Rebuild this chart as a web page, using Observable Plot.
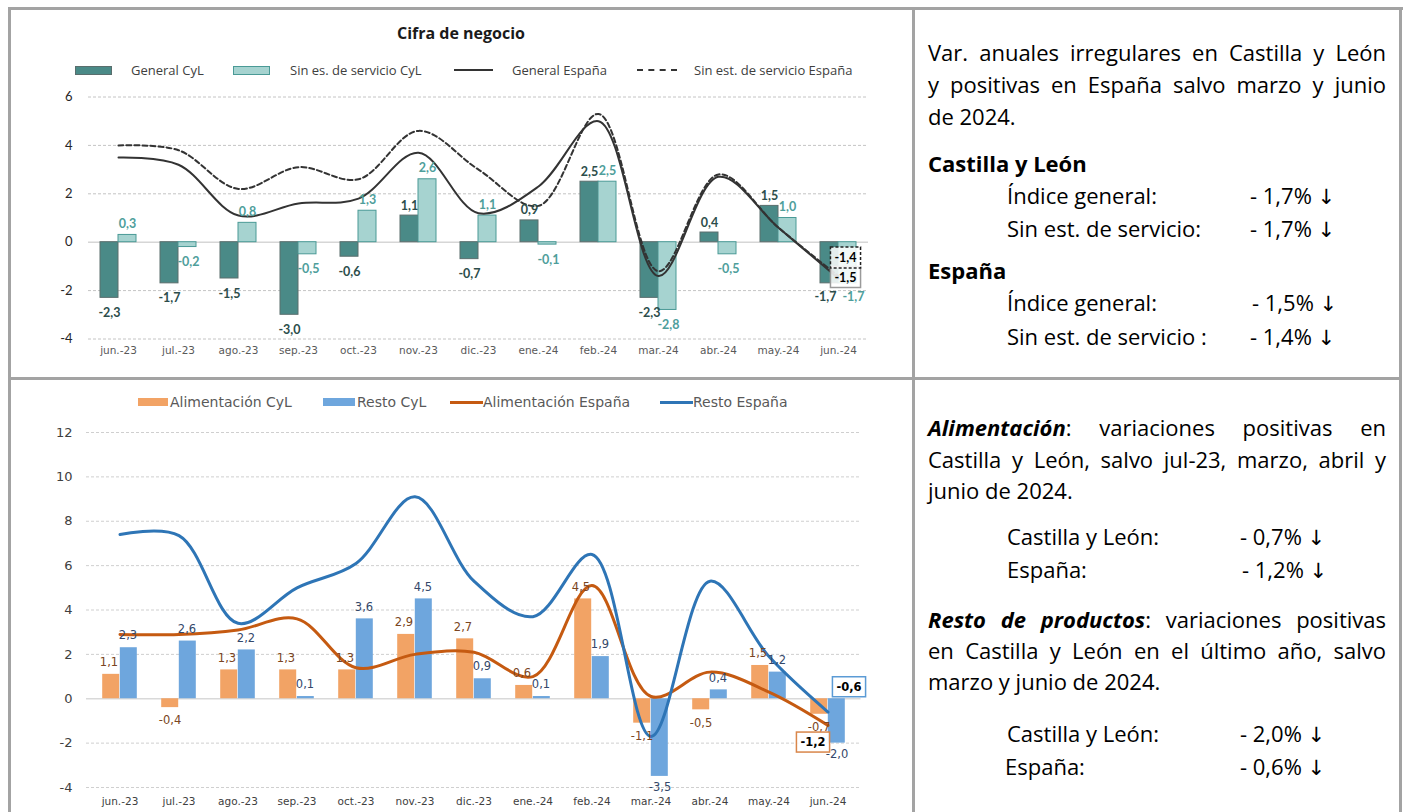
<!DOCTYPE html>
<html><head><meta charset="utf-8">
<script src="https://cdn.jsdelivr.net/npm/d3@7"></script>
<script src="https://cdn.jsdelivr.net/npm/@observablehq/plot@0.6"></script>
<style>
body{margin:0;background:#fff;width:1405px;height:812px;overflow:hidden;position:relative;font-family:"Open Sans",sans-serif;color:#000}
.a{position:absolute;white-space:nowrap}
.bd{position:absolute;background:#a3a3a3}
.leg1{position:absolute;font-family:"Open Sans",sans-serif;font-size:13px;color:#404040;line-height:16px;white-space:nowrap}
.leg2{position:absolute;font-family:"DejaVu Sans",sans-serif;font-size:14px;color:#595959;line-height:16px;white-space:nowrap}
.txt{position:absolute;font-family:"Open Sans",sans-serif;font-size:22px;line-height:32px;white-space:nowrap}
.j{text-align:justify;text-align-last:justify;white-space:normal;height:32px}
.ar{font-family:"DejaVu Sans",sans-serif;font-size:21px;font-weight:normal}
</style>
</head><body>
<div id="root"></div>
<script>
// ---------- data ----------
const months = ["jun.-23","jul.-23","ago.-23","sep.-23","oct.-23","nov.-23","dic.-23","ene.-24","feb.-24","mar.-24","abr.-24","may.-24","jun.-24"];
const generalCyL = [-2.3,-1.7,-1.5,-3.0,-0.6,1.1,-0.7,0.9,2.5,-2.3,0.4,1.5,-1.7];
const sinEstCyL  = [0.3,-0.2,0.8,-0.5,1.3,2.6,1.1,-0.1,2.5,-2.8,-0.5,1.0,-1.7];
const generalEsp = [3.5,3.2,1.1,1.6,1.8,3.7,1.2,2.3,5.0,-1.4,2.7,0.6,-1.5];
const sinEstEsp  = [4.0,3.8,2.2,3.1,2.6,4.6,3.0,1.5,5.3,-1.2,2.8,0.6,-1.4];
const topTicks = [-4,-2,0,2,4,6];

const alimCyL  = [1.1,-0.4,1.3,1.3,1.3,2.9,2.7,0.6,4.5,-1.1,-0.5,1.5,-0.7];
const restoCyL = [2.3,2.6,2.2,0.1,3.6,4.5,0.9,0.1,1.9,-3.5,0.4,1.2,-2.0];
const alimEsp  = [2.9,2.9,3.1,3.6,1.4,2.0,2.1,1.0,5.1,0.1,1.2,0.3,-1.2];
const restoEsp = [7.4,7.35,3.4,5.0,6.1,9.1,5.3,3.7,6.5,-1.7,5.3,1.9,-0.6];
const botTicks = [-4,-2,0,2,4,6,8,10,12];

const topTitle = "Cifra de negocio";
const topLegend = ["General CyL","Sin es. de servicio CyL","General España","Sin est. de servicio España"];
const botLegend = ["Alimentación CyL","Resto CyL","Alimentación España","Resto España"];

// ---------- helpers ----------
const root = document.getElementById("root");
function el(tag, cls, style, html){const e=document.createElement(tag); if(cls) e.className=cls; if(style) e.setAttribute("style",style); if(html!=null) e.innerHTML=html; root.appendChild(e); return e;}
const fmt = v => v.toFixed(1).replace(".", ",");
const lastM = months[months.length-1];

// ---------- frame ----------
el("div","bd","left:8px;top:7px;width:1395px;height:3px");
el("div","bd","left:8px;top:7px;width:3px;height:805px");
el("div","bd","left:1399px;top:7px;width:3px;height:805px");
el("div","bd","left:912px;top:7px;width:3px;height:805px");
el("div","bd","left:8px;top:377px;width:1394px;height:3px");

// ---------- top chart ----------
el("div","a","left:0;top:22px;width:922px;text-align:center;font-family:'Open Sans',sans-serif;font-weight:bold;font-size:16px;color:#1a1a1a", topTitle);
el("div","a","left:75px;top:66px;width:35px;height:7px;background:#4a8a87;border:1px solid #5a6e6d");
el("div","leg1","left:131px;top:62px", topLegend[0]);
el("div","a","left:233px;top:66px;width:35px;height:7px;background:#a6d3d0;border:1px solid #4a9a96");
el("div","leg1","left:290px;top:62px", topLegend[1]);
el("div","a","left:454px;top:69px;width:39px;height:0;border-top:2px solid #333");
el("div","leg1","left:512px;top:62px", topLegend[2]);
el("div","a","left:637px;top:69px;width:40px;height:0;border-top:2px dashed #333");
el("div","leg1","left:694px;top:62px", topLegend[3]);

const topData = months.map((m,i)=>({month:m, gen:generalCyL[i], sin:sinEstCyL[i], genE:generalEsp[i], sinE:sinEstEsp[i]}));
const notLast = d => d.month !== lastM;
const isLast = d => d.month === lastM;
const lab1 = {fontFamily:"Lato,sans-serif", fontSize:12.5, fontWeight:"bold"};

const topPlot = Plot.plot({
  width: 903, height: 285,
  marginLeft: 78, marginRight: 45, marginTop: 11.5, marginBottom: 31.5,
  style: {fontFamily:"Lato,sans-serif", background:"transparent", overflow:"visible"},
  x: {type:"band", domain: months, paddingInner: 0.7, paddingOuter: 0.35},
  y: {domain: [-4, 6]},
  marks: [
    Plot.gridY(topTicks.filter(t=>t!==0), {stroke:"#c4c4c4", strokeOpacity:1, strokeDasharray:"3,2"}),
    Plot.ruleY([0], {stroke:"#d6d6d6", strokeWidth:1.5}),
    Plot.axisY(topTicks, {tickSize:0, tickPadding:16, tickFormat:d=>String(d), fontSize:13, fill:"#262626", label:null}),
    Plot.axisX({tickSize:0, tickPadding:8, fontSize:10.5, fontFamily:"DejaVu Sans,sans-serif", fill:"#595959", label:null}),
    Plot.barY(topData, {x:"month", y:"gen", dx:-9, fill:"#4a8a87", stroke:"#5a6e6d", strokeWidth:1}),
    Plot.barY(topData, {x:"month", y:"sin", dx:9, fill:"#a6d3d0", stroke:"#4a9a96", strokeWidth:1}),
    Plot.line(topData, {x:"month", y:"sinE", curve:"catmull-rom", stroke:"#333", strokeWidth:2, strokeDasharray:"5,3"}),
    Plot.line(topData, {x:"month", y:"genE", curve:"catmull-rom", stroke:"#333", strokeWidth:2}),
    Plot.text(topData, {filter:d=>notLast(d)&&d.gen>=0, x:"month", y:"gen", text:d=>fmt(d.gen), dx:-9, dy:-10, fill:"#2c4d4b", ...lab1}),
    Plot.text(topData, {filter:d=>notLast(d)&&d.gen<0, x:"month", y:"gen", text:d=>fmt(d.gen), dx:-9, dy:15, fill:"#2c4d4b", ...lab1}),
    Plot.text(topData, {filter:d=>notLast(d)&&d.sin>=0, x:"month", y:"sin", text:d=>fmt(d.sin), dx:9, dy:-11, fill:"#4e9e9b", ...lab1}),
    Plot.text(topData, {filter:d=>notLast(d)&&d.sin<0, x:"month", y:"sin", text:d=>fmt(d.sin), dx:10, dy:15, fill:"#4e9e9b", ...lab1}),
    Plot.text(topData, {filter:isLast, x:"month", y:"gen", text:d=>fmt(d.gen), dx:-13, dy:14, fill:"#2c4d4b", ...lab1}),
    Plot.text(topData, {filter:isLast, x:"month", y:"sin", text:d=>fmt(d.sin), dx:15, dy:14, fill:"#4e9e9b", ...lab1}),
    Plot.text(topData, {filter:isLast, x:"month", y:"genE", text:d=>fmt(d.genE), dx:7, dy:-1, fill:"#000", ariaDescription:"box-solid", ...lab1}),
    Plot.text(topData, {filter:isLast, x:"month", y:"sinE", text:d=>fmt(d.sinE), dx:7, dy:-18, fill:"#000", ariaDescription:"box-dashed", ...lab1})
  ]
});
const topWrap = el("div","a","left:10px;top:85px");
topWrap.appendChild(topPlot);

// ---------- bottom chart ----------
el("div","a","left:138px;top:398px;width:30px;height:8px;background:#f2a365");
el("div","leg2","left:170px;top:394px", botLegend[0]);
el("div","a","left:323px;top:398px;width:32px;height:8px;background:#6ea6dd");
el("div","leg2","left:357px;top:394px", botLegend[1]);
el("div","a","left:450px;top:401px;width:33px;height:0;border-top:3px solid #c55a11");
el("div","leg2","left:483px;top:394px", botLegend[2]);
el("div","a","left:660px;top:401px;width:33px;height:0;border-top:3px solid #2e75b6");
el("div","leg2","left:693px;top:394px", botLegend[3]);

const botData = months.map((m,i)=>({month:m, al:alimCyL[i], re:restoCyL[i], alE:alimEsp[i], reE:restoEsp[i]}));
const lab2 = {fontFamily:"DejaVu Sans,sans-serif", fontSize:11.5};
const lab2b = {fontFamily:"DejaVu Sans,sans-serif", fontSize:11.5, fontWeight:"bold"};

const botPlot = Plot.plot({
  width: 903, height: 397,
  marginLeft: 76, marginRight: 52.5, marginTop: 17, marginBottom: 25,
  style: {fontFamily:"DejaVu Sans,sans-serif", background:"transparent", overflow:"visible"},
  x: {type:"band", domain: months, paddingInner: 0.706, paddingOuter: 0.353},
  y: {domain: [-4, 12]},
  marks: [
    Plot.gridY(botTicks.filter(t=>t!==0), {stroke:"#cfcfcf", strokeOpacity:1, strokeDasharray:"3,2"}),
    Plot.ruleY([0], {stroke:"#d9d9d9", strokeWidth:1.5}),
    Plot.axisY(botTicks, {tickSize:0, tickPadding:14, tickFormat:d=>String(d), fontSize:13, fill:"#404040", label:null}),
    Plot.axisX({tickSize:0, tickPadding:10, fontSize:10.5, fill:"#404040", label:null}),
    Plot.barY(botData, {x:"month", y:"al", dx:-8.8, fill:"#f2a365"}),
    Plot.barY(botData, {x:"month", y:"re", dx:8.8, fill:"#6ea6dd"}),
    Plot.line(botData, {x:"month", y:"alE", curve:"catmull-rom", stroke:"#c55a11", strokeWidth:3}),
    Plot.line(botData, {x:"month", y:"reE", curve:"catmull-rom", stroke:"#2e75b6", strokeWidth:3}),
    Plot.text(botData, {filter:d=>d.al>=0, x:"month", y:"al", text:d=>fmt(d.al), dx:-11, dy:-12, fill:"#7a4522", ...lab2}),
    Plot.text(botData, {filter:d=>d.al<0, x:"month", y:"al", text:d=>fmt(d.al), dx:-9, dy:13, fill:"#7a4522", ...lab2}),
    Plot.text(botData, {filter:d=>d.re>=0, x:"month", y:"re", text:d=>fmt(d.re), dx:8, dy:-12, fill:"#34486a", ...lab2}),
    Plot.text(botData, {filter:d=>d.re<0, x:"month", y:"re", text:d=>fmt(d.re), dx:9, dy:11, fill:"#34486a", ...lab2}),
    Plot.text(botData, {filter:isLast, x:"month", y:"reE", text:d=>fmt(d.reE), dx:21, dy:-25, fill:"#000", ariaDescription:"box-blue", ...lab2b}),
    Plot.text(botData, {filter:isLast, x:"month", y:"alE", text:d=>fmt(d.alE), dx:-15, dy:17, fill:"#000", ariaDescription:"box-orange", ...lab2b})
  ]
});
const botWrap = el("div","a","left:10px;top:415px");
botWrap.appendChild(botPlot);

// boxes around selected labels (sized from the rendered text)
function boxes(svg, label, stroke, dash){
  d3.select(svg).selectAll(`g[aria-description="${label}"] text`).each(function(){
    const b = this.getBBox();
    const r = document.createElementNS("http://www.w3.org/2000/svg","rect");
    r.setAttribute("x", b.x-4); r.setAttribute("y", b.y-3);
    r.setAttribute("width", b.width+8); r.setAttribute("height", b.height+6);
    r.setAttribute("fill", "#fff"); r.setAttribute("fill-opacity", "0.85");
    r.setAttribute("stroke", stroke); r.setAttribute("stroke-width", "1.5");
    if (dash) r.setAttribute("stroke-dasharray", dash);
    const t = this.getAttribute("transform"); if (t) r.setAttribute("transform", t);
    this.parentNode.insertBefore(r, this);
  });
}
boxes(topPlot, "box-solid", "#9a9a9a", null);
boxes(topPlot, "box-dashed", "#222", "3,2");
boxes(botPlot, "box-blue", "#5b9bd5", null);
boxes(botPlot, "box-orange", "#d9864a", null);

// ---------- right text panels ----------
function line(top, left, width, html, cls){ return el("div", "txt"+(cls?" "+cls:""), `left:${left}px;top:${top-16}px;${width?`width:${width}px;`:""}`, html); }
const AR = ' <span class="ar">↓</span>';
line(52, 928, 458, "Var. anuales irregulares en Castilla y León", "j");
line(84, 928, 458, "y positivas en España salvo marzo y junio", "j");
line(116, 928, null, "de 2024.");
line(163, 928, null, "<b>Castilla y León</b>");
line(195, 1007, null, "Índice general:");
line(195, 1250, null, "- 1,7%" + AR);
line(228, 1007, null, "Sin est. de servicio:");
line(228, 1250, null, "- 1,7%" + AR);
line(270, 928, null, "<b>España</b>");
line(302, 1007, null, "Índice general:");
line(302, 1252, null, "- 1,5%" + AR);
line(336, 1007, null, "Sin est. de servicio :");
line(336, 1250, null, "- 1,4%" + AR);

line(427, 928, 458, "<b><i>Alimentación</i></b>: variaciones positivas en", "j");
line(459, 928, 458, "Castilla y León, salvo jul-23, marzo, abril y", "j");
line(490, 928, null, "junio de 2024.");
line(536, 1007, null, "Castilla y León:");
line(536, 1240, null, "- 0,7%" + AR);
line(569, 1007, null, "España:");
line(569, 1242, null, "- 1,2%" + AR);
line(619, 928, 458, "<b><i>Resto de productos</i></b>: variaciones positivas", "j");
line(650, 928, 458, "en Castilla y León en el último año, salvo", "j");
line(681, 928, null, "marzo y junio de 2024.");
line(733, 1007, null, "Castilla y León:");
line(733, 1240, null, "- 2,0%" + AR);
line(766, 1005, null, "España:");
line(766, 1240, null, "- 0,6%" + AR);
</script>
</body></html>
